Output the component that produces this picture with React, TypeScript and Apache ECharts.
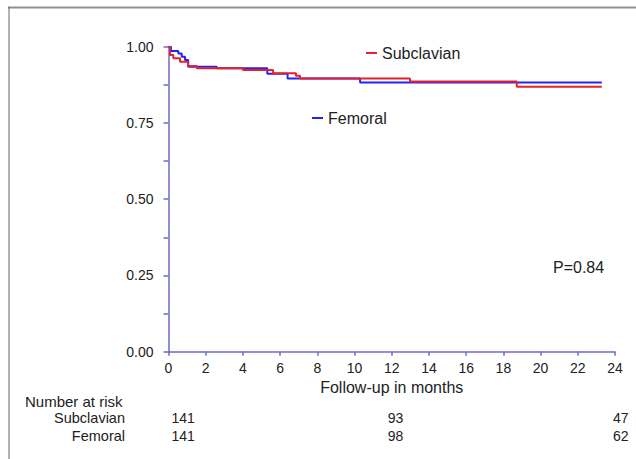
import React, { useEffect, useRef } from "react";
import * as echarts from "echarts";

// Kaplan-Meier step data (months, survival)
const subclavianTimes = [0, 0.08, 0.26, 0.62, 1.05, 1.52, 4.0, 5.62, 6.85, 7.07, 12.98, 18.72, 23.29];
const subclavianSurvival = [1.0, 0.973, 0.962, 0.951, 0.937, 0.929, 0.924, 0.913, 0.905, 0.896, 0.886, 0.869, 0.869];
const femoralTimes = [0, 0.13, 0.53, 0.71, 0.89, 1.06, 2.59, 5.31, 6.4, 10.3, 23.29];
const femoralSurvival = [1.0, 0.986, 0.978, 0.967, 0.956, 0.934, 0.929, 0.911, 0.896, 0.883, 0.883];

const riskTimes = [0, 12, 24];
const subclavianAtRisk = [141, 93, 47];
const femoralAtRisk = [141, 98, 62];
const groupNames = ["Subclavian", "Femoral"];
const pValueText = "P=0.84";
const xAxisTitle = "Follow-up in months";
const riskTitle = "Number at risk";

export default function App() {
  const ref = useRef<HTMLDivElement>(null);
  useEffect(() => {
    const chart = echarts.init(ref.current!, null, { renderer: "svg" });
    const font = "'Liberation Sans', Arial, Helvetica, sans-serif";
    const axisColor = "#6b6bc4";
    const textColor = "#222";
    const red = "#e8202a";
    const blue = "#2424f0";
    const legendCommon = {
      icon: "rect",
      itemWidth: 11,
      itemHeight: 2,
      itemGap: 5,
      padding: 0,
      selectedMode: false,
      textStyle: { fontSize: 16, color: textColor, fontFamily: font, padding: [0, 0, 0, 0] },
    };
    chart.setOption({
      animation: false,
      backgroundColor: "#fff",
      textStyle: { fontFamily: font },
      grid: { left: 168.5, right: 21, top: 46.7, bottom: 107.3, containLabel: false },
      legend: [
        { ...legendCommon, data: [groupNames[0]], left: 366, top: 45 },
        { ...legendCommon, data: [groupNames[1]], left: 312, top: 110 },
      ],
      xAxis: {
        type: "value",
        min: 0,
        max: 24,
        interval: 2,
        name: xAxisTitle,
        nameLocation: "middle",
        nameGap: 27,
        nameTextStyle: { fontSize: 16, color: textColor, fontFamily: font },
        axisLine: { onZero: false, lineStyle: { color: axisColor, width: 1.5 } },
        axisTick: { show: true, length: 4, inside: false, lineStyle: { color: axisColor, width: 1.5 } },
        axisLabel: { fontSize: 14, color: textColor, margin: 9, fontFamily: font },
        splitLine: { show: false },
      },
      yAxis: {
        type: "value",
        min: 0,
        max: 1,
        interval: 0.25,
        axisLine: { show: true, onZero: false, lineStyle: { color: axisColor, width: 1.5 } },
        axisTick: { show: true, length: 5, lineStyle: { color: axisColor, width: 1.5 } },
        minorTick: { show: true, splitNumber: 2, length: 5, lineStyle: { color: axisColor, width: 1.5 } },
        axisLabel: {
          fontSize: 14,
          color: textColor,
          margin: 15,
          fontFamily: font,
          formatter: (v: number) => v.toFixed(2),
        },
        splitLine: { show: false },
      },
      series: [
        {
          name: groupNames[1],
          type: "line",
          step: "end",
          showSymbol: false,
          symbol: "none",
          data: femoralTimes.map((t, i) => [t, femoralSurvival[i]]),
          lineStyle: { color: blue, width: 2 },
          itemStyle: { color: blue },
          z: 2,
        },
        {
          name: groupNames[0],
          type: "line",
          step: "end",
          showSymbol: false,
          symbol: "none",
          data: subclavianTimes.map((t, i) => [t, subclavianSurvival[i]]),
          lineStyle: { color: red, width: 2 },
          itemStyle: { color: red },
          z: 3,
        },
      ],
    });

    const riskOffsets = [3, -4, -2];
    const elements: any[] = [
      { type: "line", shape: { x1: 8, y1: 7.5, x2: 636, y2: 7.5 }, style: { stroke: "#909090", lineWidth: 2 } },
      { type: "line", shape: { x1: 9, y1: 7, x2: 9, y2: 459 }, style: { stroke: "#666", lineWidth: 1 } },
      {
        type: "text",
        x: 553,
        y: 267,
        style: { text: pValueText, font: `16px ${font}`, fill: textColor, align: "left", verticalAlign: "middle" },
      },
      {
        type: "text",
        x: 25,
        y: 401,
        style: { text: riskTitle, font: `15px ${font}`, fill: textColor, align: "left", verticalAlign: "middle" },
      },
      {
        type: "text",
        x: 125,
        y: 418,
        style: { text: groupNames[0], font: `14.5px ${font}`, fill: textColor, align: "right", verticalAlign: "middle" },
      },
      {
        type: "text",
        x: 125,
        y: 436,
        style: { text: groupNames[1], font: `14.5px ${font}`, fill: textColor, align: "right", verticalAlign: "middle" },
      },
    ];
    riskTimes.forEach((t, i) => {
      const px = chart.convertToPixel({ xAxisIndex: 0 }, t) as number;
      elements.push({
        type: "text",
        x: px + riskOffsets[i],
        y: 418,
        style: { text: String(subclavianAtRisk[i]), font: `14px ${font}`, fill: textColor, align: "left", verticalAlign: "middle" },
      });
      elements.push({
        type: "text",
        x: px + riskOffsets[i],
        y: 436,
        style: { text: String(femoralAtRisk[i]), font: `14px ${font}`, fill: textColor, align: "left", verticalAlign: "middle" },
      });
    });
    chart.setOption({ graphic: { elements } });
    return () => chart.dispose();
  }, []);
  return (
    <div
      ref={ref}
      style={{ position: "fixed", left: 0, top: 0, width: 636, height: 459, background: "#fff" }}
    />
  );
}
